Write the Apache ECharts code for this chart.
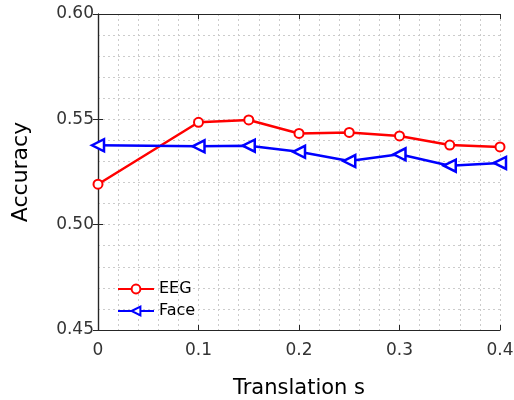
<!DOCTYPE html>
<html><head><meta charset="utf-8">
<script src="https://cdn.jsdelivr.net/npm/echarts@6/dist/echarts.min.js"></script>
<style>html,body{margin:0;padding:0;background:#fff}#c{width:514px;height:400px}</style>
</head><body><div id="c"></div>
<script>
const xValues = [0, 0.1, 0.15, 0.2, 0.25, 0.3, 0.35, 0.4];
const eegValues = [0.5192, 0.5486, 0.5497, 0.5433, 0.5438, 0.5421, 0.5378, 0.5369];
const faceValues = [0.5377, 0.5372, 0.5375, 0.5346, 0.5302, 0.5334, 0.5280, 0.5293];
const yTicks = ['0.45', '0.50', '0.55', '0.60'];
const xTicks = ['0', '0.1', '0.2', '0.3', '0.4'];

const font = 'DejaVu Sans';
const chart = echarts.init(document.getElementById('c'));
const gridLine = {show: true, lineStyle: {color: '#cccccc', type: [2, 3], width: 1}};
chart.setOption({
  animation: false,
  grid: {left: 98, right: 14, top: 14, bottom: 70, containLabel: false, outerBoundsMode: 'none'},
  legend: {
    left: 112, top: 276, orient: 'vertical', itemGap: 6, itemWidth: 36, itemHeight: 11,
    textStyle: {fontFamily: font, fontSize: 16, color: '#000'},
    data: [{name: 'EEG'}, {name: 'Face'}]
  },
  xAxis: [{
    type: 'value', min: 0, max: 0.4, interval: 0.1,
    name: 'Translation s', nameLocation: 'middle', nameGap: 48,
    nameTextStyle: {fontFamily: font, fontSize: 21, color: '#000'},
    axisLine: {lineStyle: {color: '#262626', width: 1.2}},
    axisTick: {inside: true, length: 5, lineStyle: {color: '#262626'}},
    axisLabel: {fontFamily: font, fontSize: 17, color: '#333', margin: 12,
      formatter: v => xTicks[Math.round(v * 10)]},
    splitLine: gridLine,
    minorTick: {show: false, splitNumber: 5},
    minorSplitLine: gridLine
  }, {
    type: 'value', min: 0, max: 0.4, interval: 0.1, position: 'top',
    axisLine: {lineStyle: {color: '#262626', width: 1.2}},
    axisTick: {inside: true, length: 5, lineStyle: {color: '#262626'}},
    axisLabel: {show: false}, splitLine: {show: false}
  }],
  yAxis: [{
    type: 'value', min: 0.45, max: 0.60, interval: 0.05,
    name: 'Accuracy', nameLocation: 'middle', nameGap: 66, nameRotate: 90,
    nameTextStyle: {fontFamily: font, fontSize: 22, color: '#000'},
    axisLine: {show: true, lineStyle: {color: '#262626', width: 1.2}},
    axisTick: {show: true, inside: true, length: 5, lineStyle: {color: '#262626'}},
    axisLabel: {fontFamily: font, fontSize: 17, color: '#333', margin: 4,
      formatter: v => yTicks[Math.round((v - 0.45) / 0.05)]},
    splitLine: gridLine,
    minorTick: {show: false, splitNumber: 5},
    minorSplitLine: gridLine
  }, {
    type: 'value', min: 0.45, max: 0.60, interval: 0.05, position: 'right',
    axisLine: {show: true, lineStyle: {color: '#262626', width: 1.2}},
    axisTick: {show: true, inside: true, length: 5, lineStyle: {color: '#262626'}},
    axisLabel: {show: false}, splitLine: {show: false}
  }],
  series: [{
    name: 'EEG', type: 'line', data: xValues.map((x, i) => [x, eegValues[i]]),
    symbol: 'emptyCircle', symbolSize: 9,
    lineStyle: {color: '#ff0000', width: 2.5},
    itemStyle: {color: '#ff0000', borderWidth: 2}
  }, {
    name: 'Face', type: 'line', data: xValues.map((x, i) => [x, faceValues[i]]),
    symbol: 'triangle', symbolRotate: 90, symbolSize: 12,
    lineStyle: {color: '#0000ff', width: 2.5},
    itemStyle: {color: '#ffffff', borderColor: '#0000ff', borderWidth: 2.5}
  }]
});
</script></body></html>
